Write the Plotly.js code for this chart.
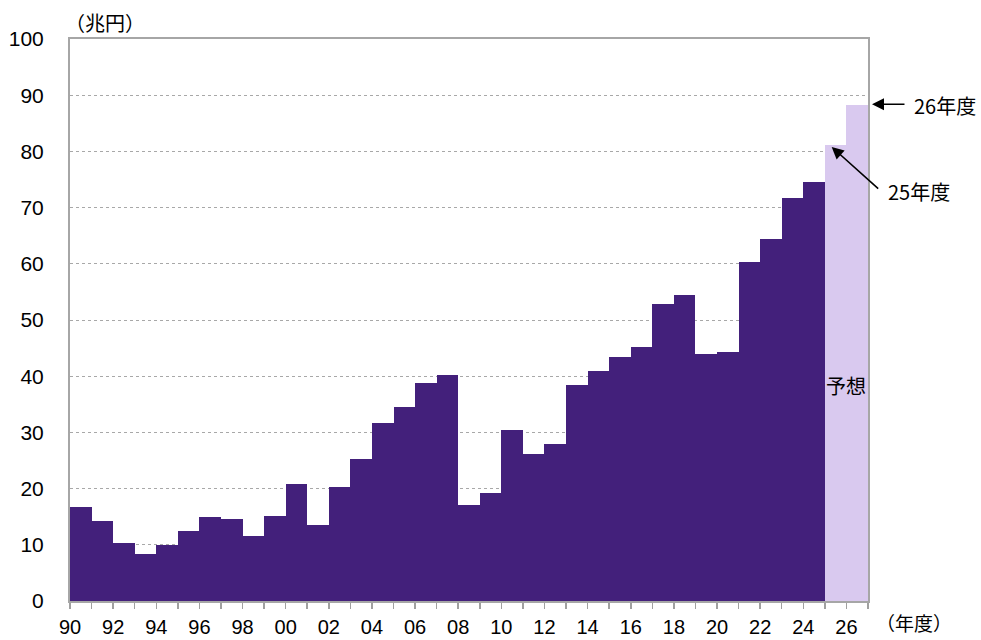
<!DOCTYPE html>
<html>
<head>
<meta charset="utf-8">
<script src="https://cdn.plot.ly/plotly-3.0.1.min.js"></script>
<style>html,body{margin:0;padding:0;background:#fff;}#chart{width:981px;height:640px;}</style>
</head>
<body>
<div id="chart"></div>
<script>
// Fiscal years (actual) and values in 兆円
const actualYears = [1990,1991,1992,1993,1994,1995,1996,1997,1998,1999,2000,2001,2002,2003,2004,2005,2006,2007,2008,2009,2010,2011,2012,2013,2014,2015,2016,2017,2018,2019,2020,2021,2022,2023,2024];
const actualValues = [16.7,14.2,10.3,8.4,10.0,12.4,14.9,14.6,11.6,15.1,20.8,13.6,20.3,25.3,31.7,34.5,38.8,40.2,17.0,19.2,30.4,26.2,27.9,38.4,41.0,43.4,45.2,52.8,54.4,43.9,44.3,60.4,64.4,71.7,74.6];
const forecastYears = [2025,2026];
const forecastValues = [81.1,88.2];
const tickYears = [1990,1991,1992,1993,1994,1995,1996,1997,1998,1999,2000,2001,2002,2003,2004,2005,2006,2007,2008,2009,2010,2011,2012,2013,2014,2015,2016,2017,2018,2019,2020,2021,2022,2023,2024,2025,2026,2027];
const tickLabels = ["90","","92","","94","","96","","98","","00","","02","","04","","06","","08","","10","","12","","14","","16","","18","","20","","22","","24","","26",""];
const yTicks = [0,10,20,30,40,50,60,70,80,90,100];

const FONT = "Liberation Sans, Arial, 'Noto Sans CJK JP', sans-serif";
const JFONT = "'Noto Sans CJK JP', 'Liberation Sans', sans-serif";

const traces = [
  {type:'bar', x: actualYears.map(y=>y+0.5), y: actualValues, width: 1,
   marker:{color:'#43207b', line:{width:0}}, hoverinfo:'skip'},
  {type:'bar', x: forecastYears.map(y=>y+0.5), y: forecastValues, width: 1,
   marker:{color:'#d9c9ef', line:{width:0}}, hoverinfo:'skip'}
];

const layout = {
  width: 981, height: 640,
  margin:{l:70, r:113, t:39, b:39},
  paper_bgcolor:'#fff', plot_bgcolor:'#fff',
  showlegend:false, barmode:'overlay', bargap:0,
  font:{family:FONT, color:'#000', size:20},
  xaxis:{
    range:[1990,2027], tickmode:'array', tickvals: tickYears, ticktext: tickLabels,
    ticks:'outside', ticklen:6, tickcolor:'#a0a0a0', tickwidth:1.5,
    showline:true, linecolor:'#a6a6a6', linewidth:2, mirror:true,
    showgrid:false, zeroline:false,
    tickfont:{family:FONT, size:20, color:'#000'}, ticklabelstandoff:1
  },
  yaxis:{
    range:[0,100], tickmode:'array', tickvals: yTicks,
    ticks:'', showline:true, linecolor:'#a6a6a6', linewidth:2, mirror:true,
    showgrid:true, gridcolor:'#a8a8a8', griddash:'dot', gridwidth:1,
    zeroline:false,
    tickfont:{family:FONT, size:21, color:'#000'}, ticklabelstandoff:20
  },
  annotations:[
    {xref:'paper', yref:'paper', x:-0.009, y:1.03, xanchor:'left', yanchor:'middle',
     text:'（兆円）', showarrow:false, font:{family:JFONT, size:20, color:'#000'}},
    {xref:'paper', yref:'paper', x:1.008, y:-0.0665, xanchor:'left', yanchor:'bottom',
     text:'（年度）', showarrow:false, font:{family:JFONT, size:19, color:'#000'}},
    {xref:'x', yref:'y', x:2026, y:38.3, xanchor:'center', yanchor:'middle',
     text:'予想', showarrow:false, font:{family:JFONT, size:20, color:'#000'}},
    // 26年度 arrow + text
    {xref:'paper', yref:'paper', x:1.005, y:0.884, text:'', showarrow:true,
     ax:34, ay:0, arrowhead:2, arrowsize:1.5, arrowwidth:1.6, arrowcolor:'#000'},
    {xref:'paper', yref:'paper', x:1.055, y:0.882, xanchor:'left', yanchor:'middle',
     text:'26年度', showarrow:false, font:{family:JFONT, size:20, color:'#000'}},
    // 25年度 arrow + text
    {xref:'paper', yref:'paper', x:0.9545, y:0.808, text:'', showarrow:true,
     ax:48, ay:43, arrowhead:2, arrowsize:1.5, arrowwidth:1.6, arrowcolor:'#000'},
    {xref:'paper', yref:'paper', x:1.023, y:0.728, xanchor:'left', yanchor:'middle',
     text:'25年度', showarrow:false, font:{family:JFONT, size:20, color:'#000'}}
  ]
};

Plotly.newPlot('chart', traces, layout, {displayModeBar:false, staticPlot:true});
</script>
</body>
</html>
